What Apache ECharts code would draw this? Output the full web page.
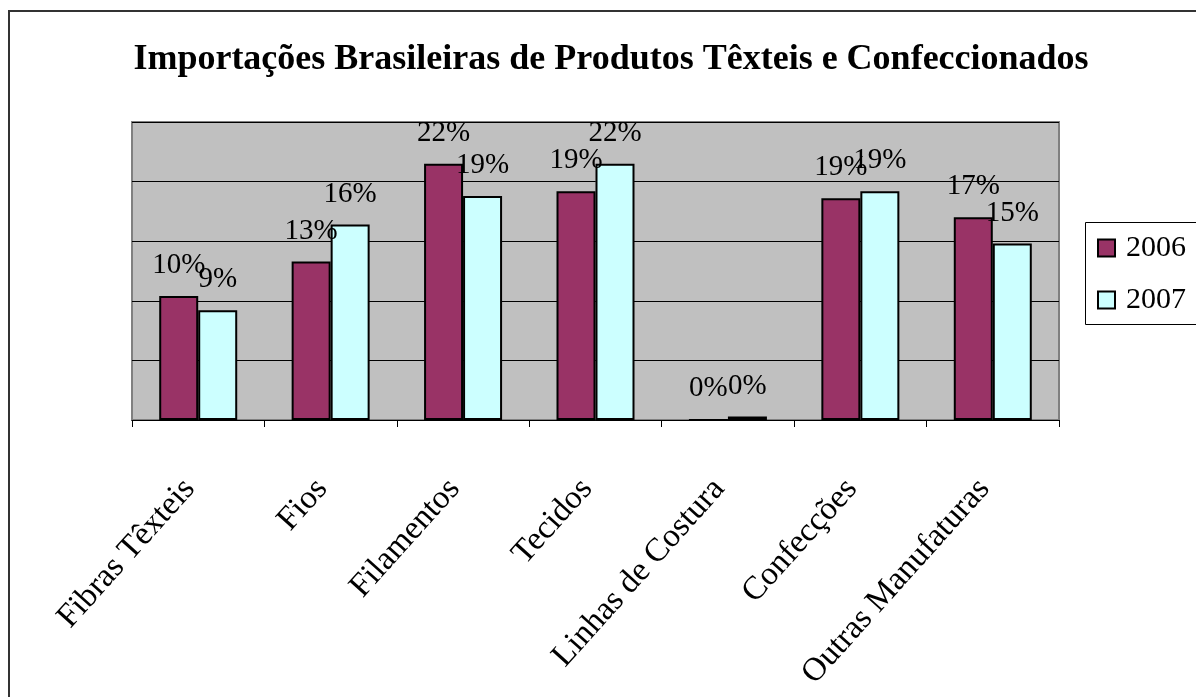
<!DOCTYPE html>
<html lang="pt">
<head>
    <meta charset="UTF-8">
    <title>Importações Brasileiras</title>
    <script src="https://cdn.jsdelivr.net/npm/echarts@6/dist/echarts.min.js"></script>
</head>
<body style="margin:0;background:#fff;">
<div id="main" style="width:1196px;height:697px;"></div>
<script>
    // dados (% das importações)
    var categorias = ['Fibras Têxteis', 'Fios', 'Filamentos', 'Tecidos', 'Linhas de Costura', 'Confecções', 'Outras Manufaturas'];
    var anos = ['2006', '2007'];
    var valores2006 = [10.4, 13.3, 21.5, 19.2, 0, 18.6, 17.0];
    var valores2007 = [9.2, 16.4, 18.8, 21.5, 0.3, 19.2, 14.8];
    var eixoMax = 25;
    var eixoPasso = 5;

    var fonte = 'Liberation Serif, Times New Roman, serif';
    var myChart = echarts.init(document.getElementById('main'));

    var rotulo = {
        show: true,
        position: 'top',
        distance: 16,
        color: '#000',
        fontFamily: fonte,
        fontSize: 29,
        formatter: function (p) {
            return Math.round(p.value) + '%';
        }
    };

    myChart.setOption({
        animation: false,
        title: {
            text: 'Importações Brasileiras de Produtos Têxteis e Confeccionados',
            left: 606,
            textAlign: 'center',
            top: 37,
            textStyle: {
                fontFamily: fonte,
                fontWeight: 'bold',
                fontSize: 36,
                color: '#000'
            }
        },
        graphic: [
            {
                type: 'rect',
                shape: {x: 9, y: 11, width: 1300, height: 800},
                style: {fill: 'none', stroke: '#333', lineWidth: 2},
                silent: true
            },
            {
                type: 'rect',
                shape: {x: 1085.5, y: 222.5, width: 200, height: 102},
                style: {fill: '#fff', stroke: '#000', lineWidth: 1},
                silent: true,
                z: 0
            }
        ],
        legend: {
            data: anos,
            orient: 'vertical',
            left: 1092,
            top: 228,
            itemWidth: 17,
            itemHeight: 17,
            itemGap: 22,
            icon: 'rect',
            textStyle: {
                fontFamily: fonte,
                fontSize: 30,
                color: '#000',
                lineHeight: 30,
                padding: [0, 0, 0, 6]
            }
        },
        grid: {
            left: 132,
            right: 137,
            top: 122,
            bottom: 277,
            show: true,
            backgroundColor: '#c0c0c0',
            borderColor: '#808080',
            borderWidth: 2
        },
        xAxis: {
            type: 'category',
            data: categorias,
            axisLine: {lineStyle: {color: '#000', width: 1}},
            axisTick: {show: true, length: 7, lineStyle: {color: '#000'}},
            axisLabel: {
                rotate: 48,
                margin: 54,
                interval: 0,
                color: '#000',
                fontFamily: fonte,
                fontSize: 33,
                padding: [0, 13, 0, 0]
            }
        },
        yAxis: {
            type: 'value',
            min: 0,
            max: eixoMax,
            interval: eixoPasso,
            axisLabel: {show: false},
            axisLine: {show: false},
            axisTick: {show: false},
            splitLine: {lineStyle: {color: '#000', width: 1}}
        },
        series: [
            {
                name: anos[0],
                type: 'bar',
                data: valores2006,
                barWidth: 39,
                barGap: '0%',
                itemStyle: {color: '#993366', borderColor: '#000', borderWidth: 2},
                label: rotulo
            },
            {
                name: anos[1],
                type: 'bar',
                data: valores2007,
                barWidth: 39,
                itemStyle: {color: '#ccffff', borderColor: '#000', borderWidth: 2},
                label: rotulo
            }
        ]
    });
</script>
</body>
</html>
